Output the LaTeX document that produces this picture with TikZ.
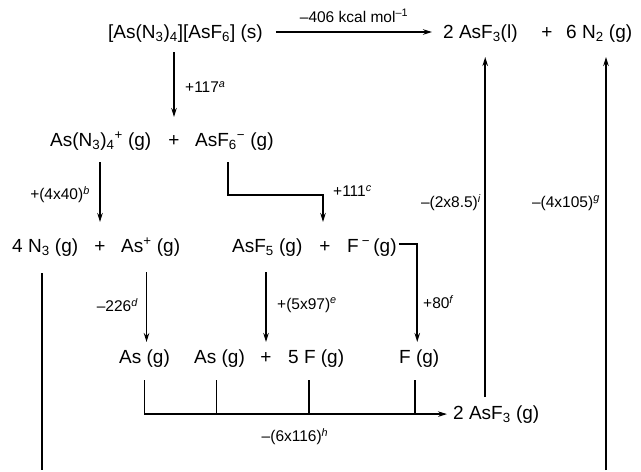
\documentclass[tikz,border=0pt]{standalone}
\usepackage{fontspec}
\setmainfont{Liberation Sans}
\usetikzlibrary{arrows.meta,calc}
\newcommand{\chsb}[1]{\textsubscript{#1}}
\newcommand{\chsp}[1]{\textsuperscript{#1}}
\newcommand{\fn}[1]{\textsuperscript{\itshape #1}}
\begin{document}
\begin{tikzpicture}[x=1pt,y=-1pt,
  chem/.style={inner sep=0pt, anchor=base west, font=\fontsize{19}{22}\selectfont},
  plus/.style={inner sep=0pt, anchor=base, font=\fontsize{19}{22}\selectfont},
  lab/.style={inner sep=0pt, font=\fontsize{15.5}{17}\selectfont},
  arr/.style={line width=1.7pt, -{Stealth[length=9pt,width=5.5pt]}},
  ln/.style={line width=1.7pt}]
\useasboundingbox (0,0) rectangle (641,472);
% row 1
\node[chem] (r1) at (108,38) {[As(N\chsb{3})\chsb{4}][AsF\chsb{6}] (s)};
\node[chem] (prod1) at (443,38) {2 AsF\chsb{3}(l)};
\node[plus] (pT) at (547,38) {+};
\node[chem] (prod2) at (566,38) {6 N\chsb{2} (g)};
% row 2
\node[chem] (a1) at (50,146) {As(N\chsb{3})\chsb{4}\chsp{+} (g)};
\node[plus] (p2) at (174,146) {+};
\node[chem] (a2) at (195,146) {AsF\chsb{6}\chsp{−} (g)};
% row 3
\node[chem] (b1) at (12,252) {4 N\chsb{3} (g)};
\node[plus] (p3) at (100,252) {+};
\node[chem] (b2) at (121,252) {As\chsp{+} (g)};
\node[chem] (b3) at (232,252) {AsF\chsb{5} (g)};
\node[plus] (p3b) at (325,252) {+};
\node[chem] (b4) at (347,252) {F\,\chsp{−}\,(g)};
% row 4
\node[chem] (c1) at (119,363) {As (g)};
\node[chem] (c2) at (194,363) {As (g)};
\node[plus] (p4) at (266,363) {+};
\node[chem] (c3) at (288,363) {5 F (g)};
\node[chem] (c4) at (399,363) {F (g)};
\node[chem] (d1) at (453,419) {2 AsF\chsb{3} (g)};
\coordinate (bot1) at (42,470);
\coordinate (bot2) at (606,470);
% connectors
\draw[arr] ($(r1.base east)+(13,-6)$) -- node[lab, midway, above=9pt] {–406 kcal mol\chsp{–1}} ($(prod1.base west)+(-11,-6)$);
\draw[arr] ($(r1.base -| p2.base)+(0,14)$) -- ($(p2.base)+(0,-29)$);
\draw[arr] ($(a1.base -| p3.base)+(0,16)$) -- ($(p3.base)+(0,-30)$);
\draw[arr] ($(a2.base west)+(33,16)$) |- ($(p3b.base)+(-2,-57)$) -- ($(p3b.base)+(-2,-30)$);
\draw[arr] ($(b2.base -| c1.base)+(2,20)$) -- ($(c1.base)+(2,-21)$);
\draw[arr] ($(b3.base -| p4.base)+(0,20)$) -- ($(p4.base)+(0,-21)$);
\draw[arr] ($(b4.base east)+(2,-8)$) -| ($(c4.base)+(-2,-21)$);
\draw[arr, shorten >=6pt] ($(c1.base)+(0,17)$) |- (d1.west);
\draw[ln] ($(c2.base)+(-3,17)$) -- ($(c2.base |- d1.west)+(-3,0)$);
\draw[ln] ($(c3.base)+(-7,17)$) -- ($(c3.base |- d1.west)+(-7,0)$);
\draw[ln] ($(c4.base)+(-4,17)$) -- ($(c4.base |- d1.west)+(-4,0)$);
\draw[arr] ($(d1.base)+(-11,-22)$) -- ($(prod1.base -| d1.base)+(-11,19)$);
\draw[arr] (bot2) -- ($(bot2 |- prod2.base)+(0,19)$);
\draw[ln] ($(bot1 |- b1.base)+(0,21)$) -- (bot1);
% labels
\node[lab, anchor=west] at (185,87) {+117\fn{a}};
\node[lab, anchor=east] at (90,195) {+(4x40)\fn{b}};
\node[lab, anchor=west] at (333,191) {+111\fn{c}};
\node[lab, anchor=east] at (481,203) {–(2x8.5)\fn{i}};
\node[lab, anchor=east] at (600,203) {–(4x105)\fn{g}};
\node[lab, anchor=east] at (138,305) {–226\fn{d}};
\node[lab, anchor=west] at (277,305) {+(5x97)\fn{e}};
\node[lab, anchor=west] at (423,302) {+80\fn{f}};
\node[lab] at (295,437) {–(6x116)\fn{h}};
\end{tikzpicture}
\end{document}
